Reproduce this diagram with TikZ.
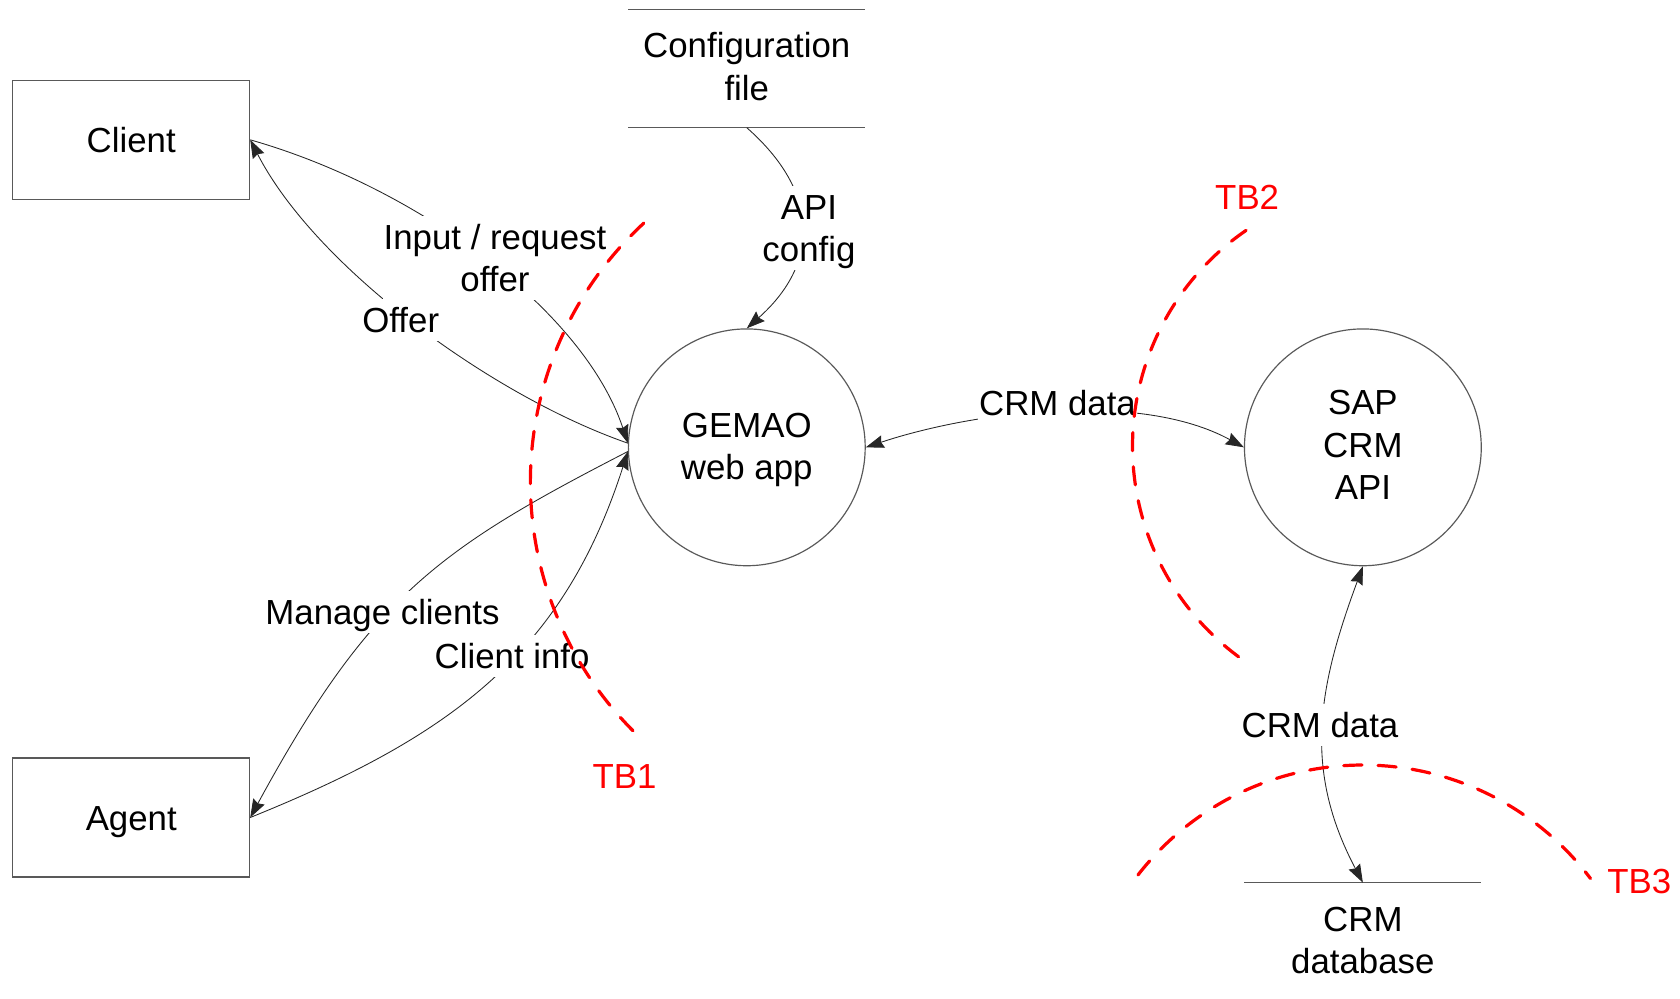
\documentclass[tikz,border=0pt]{standalone}
\usepackage{fontspec}
\setmainfont{Liberation Sans}
\usetikzlibrary{arrows.meta}
\begin{document}
\begin{tikzpicture}[x=1pt,y=-1pt,
  every node/.style={font=\fontsize{32.5pt}{39.5pt}\selectfont, align=center, inner sep=0pt, text height=30.4pt, text depth=7pt},
  twolines/.style={text height=69.9pt, text depth=7pt},
  threelines/.style={text height=109.4pt, text depth=7pt},
  entity/.style={draw=black!65, line width=1.1pt, minimum width=221pt, minimum height=111pt},
  proc/.style={draw=black!65, line width=1.1pt, circle, minimum size=221pt},
  store/.style={minimum width=221pt},
  storeline/.style={draw=black!65, line width=1.1pt},
  tip/.tip={Stealth[length=17pt,width=12pt,inset=2pt]},
  flow/.style={draw=black!85, line width=0.8pt, -tip},
  biflow/.style={draw=black!85, line width=0.8pt, tip-tip},
  lbl/.style={fill=white, inner sep=1pt},
  tb/.style={draw=red, line width=3pt, line cap=round, dash pattern=on 17pt off 15pt},
  tblbl/.style={text=red}
]
\useasboundingbox (0,0) rectangle (1568,932);

% entities, processes, stores
\node[entity] (client) at (122.5,130.5) {Client};
\node[entity] (agent) at (122.5,763) {Agent};
\node[store, minimum height=110pt] (config) at (697,64) {};
\node[twolines] (configtext) at (697,62) {Configuration\\file};
\draw[storeline] (config.north west) -- (config.north east)
                 (config.south west) -- (config.south east);
\node[proc] (gemao) at (697,417.5) {};
\node[twolines] (gemaotext) at (697,416) {GEMAO\\web app};
\node[proc] (sap) at (1272,417.5) {};
\node[threelines] (saptext) at (1272,415) {SAP\\CRM\\API};
\node[store, minimum height=115pt] (db) at (1272,881.5) {};
\node[twolines] (dbtext) at (1272,877.5) {CRM\\database};
\draw[storeline] (db.north west) -- (db.north east);

% data flows
\draw[flow] (client.east) .. controls (390,175) and (545,290) .. (gemao.178);
\draw[flow] (gemao.178) .. controls (460,370) and (295,250) .. (client.east);
\draw[flow] (gemao.182) .. controls (410,512) and (346,556) .. (agent.east);
\draw[flow] (agent.east) .. controls (419,688) and (525,612) .. (gemao.182);
\draw[flow] (config.south) .. controls (765,179) and (766,245) .. (gemao.north);
\draw[biflow] (gemao.east) .. controls (912,383) and (1065,365) .. (sap.west);
\draw[biflow] (sap.south) .. controls (1230,642) and (1216,718) .. (db.north);

% flow labels
\node[lbl, twolines] (l1) at (462,241) {Input / request\\offer};
\node[lbl] (l2) at (374,299) {Offer};
\node[lbl] (l3) at (357,571) {Manage clients};
\node[lbl] (l4) at (478,612) {Client info};
\node[lbl, twolines] (l5) at (755,213) {API\\config};
\node[lbl] (l6) at (987,376) {CRM data};
\node[lbl] (l7) at (1232,677) {CRM data};

% trust boundaries
\draw[tb] ([shift={(132.7:329pt)}]824,450) arc[start angle=132.7, end angle=226.4, radius=329pt];
\draw[tb] ([shift={(124.5:244.5pt)}]1301.5,416.5) arc[start angle=124.5, end angle=234.4, radius=244.5pt];
\draw[tb] ([shift={(142.1:266pt)}]1272,980) arc[start angle=142.1, end angle=37, radius=266pt];
\node[tblbl] (tb1) at (583,724) {TB1};
\node[tblbl] (tb2) at (1164,184) {TB2};
\node[tblbl] (tb3) at (1530,822) {TB3};
\end{tikzpicture}
\end{document}
